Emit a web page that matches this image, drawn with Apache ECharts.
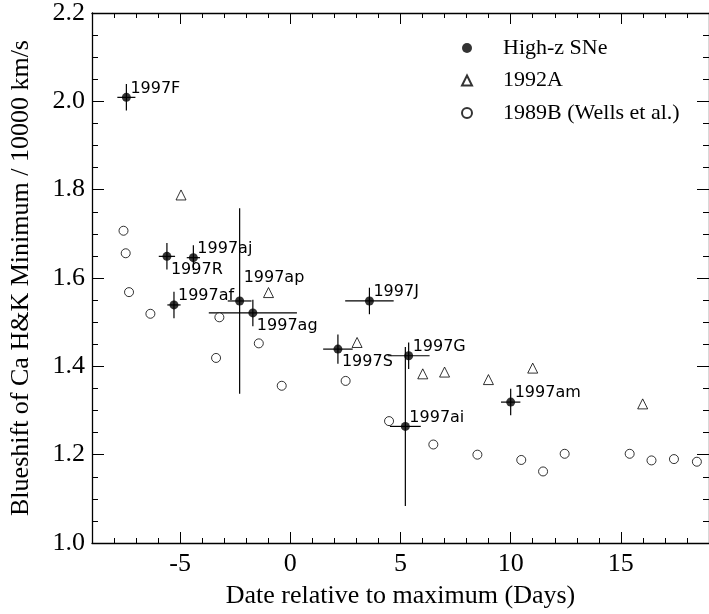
<!DOCTYPE html>
<html><head><meta charset="utf-8">
<script src="https://cdn.jsdelivr.net/npm/echarts@6/dist/echarts.min.js"></script>
<style>html,body{margin:0;padding:0;background:#fff}#c{width:709px;height:614px}</style>
</head><body><div id="c"></div>
<script>
// High-z SNe (filled circles with error bars)
const highzNames = ['1997F','1997R','1997aj','1997af','1997ap','1997ag','1997S','1997J','1997G','1997ai','1997am'];
const highzX     = [-7.44, -5.60, -4.40, -5.28, -2.30, -1.70, 2.16, 3.59, 5.37, 5.22, 10.0];
const highzY     = [2.009, 1.649, 1.646, 1.539, 1.548, 1.521, 1.439, 1.548, 1.424, 1.264, 1.319];
const highzXErr  = [0.41, 0.37, 0.30, 0.30, 0.54, 2.00, 0.67, 1.10, 0.95, 0.70, 0.44];
const highzYErr  = [0.030, 0.030, 0.028, 0.030, 0.210, 0.030, 0.033, 0.030, 0.030, 0.180, 0.030];
const labelsBelow = ['1997R','1997ag','1997S'];
const labelsHigh = ['1997ap'];

// SN 1992A (open triangles)
const sn92X = [-4.96, -0.99, 3.03, 6.01, 7.00, 8.99, 11.0, 15.99];
const sn92Y = [1.788, 1.567, 1.454, 1.383, 1.387, 1.370, 1.396, 1.315];

// SN 1989B, Wells et al. (open circles)
const sn89X = [-7.57, -7.47, -7.32, -6.35, -3.37, -3.22, -1.43, -0.39, 2.51, 4.48, 6.49, 8.49, 10.48, 11.47, 12.45, 15.40, 16.39, 17.41, 18.45];
const sn89Y = [1.707, 1.656, 1.568, 1.519, 1.419, 1.511, 1.452, 1.356, 1.367, 1.276, 1.223, 1.200, 1.188, 1.162, 1.202, 1.202, 1.187, 1.190, 1.184];

const xMajorTicks = [-5, 0, 5, 10, 15];
const xMin = -9, xMax = 19, yMin = 1.0, yMax = 2.2;

const serif = '"Liberation Serif", "Times New Roman", serif';
const black = '#000';

function xAxisDef(pos, major, withLabels) {
  const a = {
    type: 'value', position: pos, min: xMin, max: xMax,
    splitLine: { show: false },
    axisLine: { show: !major, onZero: false, lineStyle: { color: black, width: 1.3 } },
    axisTick: { show: true, inside: true, length: major ? 11 : 5, lineStyle: { color: black, width: 1 } },
    axisLabel: { show: false }
  };
  if (major) {
    a.axisTick.customValues = xMajorTicks;
    a.axisLabel = withLabels ? { show: true, customValues: xMajorTicks, color: black, fontFamily: serif, fontSize: 26, margin: 8 } : { show: false };
    if (withLabels) {
      a.name = 'Date relative to maximum (Days)';
      a.nameLocation = 'middle';
      a.nameGap = 40;
      a.nameTextStyle = { color: black, fontFamily: serif, fontSize: 26 };
    }
  } else {
    a.interval = 1;
  }
  return a;
}
function yAxisDef(pos, major, withLabels) {
  const a = {
    type: 'value', position: pos, min: yMin, max: yMax,
    interval: major ? 0.2 : 0.05,
    splitLine: { show: false },
    axisLine: { show: !major, onZero: false, lineStyle: { color: black, width: 1.3 } },
    axisTick: { show: true, inside: true, length: major ? 12 : 6, lineStyle: { color: black, width: 1 } },
    axisLabel: { show: false }
  };
  if (withLabels) {
    a.axisLabel = { show: true, color: black, fontFamily: serif, fontSize: 26, margin: 7, formatter: v => v.toFixed(1) };
    a.name = 'Blueshift of Ca H&K Minimum / 10000 km/s';
    a.nameLocation = 'middle';
    a.nameGap = 58;
    a.nameTextStyle = { color: black, fontFamily: serif, fontSize: 26 };
  }
  return a;
}

const errData = highzX.map((x, i) => [x, highzY[i], highzXErr[i], highzYErr[i], i]);

const option = {
  animation: false,
  backgroundColor: '#fff',
  grid: { left: 89, top: 7, width: 627, height: 540, containLabel: false },
  xAxis: [xAxisDef('bottom', false), xAxisDef('bottom', true, true), xAxisDef('top', false), xAxisDef('top', true, false)],
  yAxis: [yAxisDef('left', false), yAxisDef('left', true, true), yAxisDef('right', false), yAxisDef('right', true, false)],
  legend: {
    orient: 'vertical', left: 456, top: 32,
    itemWidth: 10, itemHeight: 10, itemGap: 10.5,
    textStyle: { color: black, fontFamily: serif, fontSize: 22, lineHeight: 22, padding: [0, 0, 0, 26] },
    data: ['High-z SNe', '1992A', '1989B (Wells et al.)']
  },
  series: [
    {
      type: 'custom', name: 'errorbars', xAxisIndex: 0, yAxisIndex: 0, z: 2,
      renderItem: function (params, api) {
        const x = api.value(0), y = api.value(1), ex = api.value(2), ey = api.value(3), idx = api.value(4);
        const c = api.coord([x, y]);
        const l = api.coord([x - ex, y]), r = api.coord([x + ex, y]);
        const t = api.coord([x, y + ey]), b = api.coord([x, y - ey]);
        const st = { stroke: black, lineWidth: 1.2 };
        const name = highzNames[idx];
        let dy = -9;
        if (labelsBelow.indexOf(name) >= 0) dy = 13;
        if (labelsHigh.indexOf(name) >= 0) dy = -23;
        return {
          type: 'group', children: [
            { type: 'line', shape: { x1: l[0], y1: l[1], x2: r[0], y2: r[1] }, style: st },
            { type: 'line', shape: { x1: t[0], y1: t[1], x2: b[0], y2: b[1] }, style: st },
            { type: 'text', x: c[0] + 4, y: c[1] + dy, style: { text: name, fill: black, fontFamily: '"DejaVu Sans", sans-serif', fontSize: 16, verticalAlign: 'middle', align: 'left' } }
          ]
        };
      },
      data: errData
    },
    {
      type: 'scatter', name: 'High-z SNe', xAxisIndex: 0, yAxisIndex: 0, z: 3,
      symbol: 'circle', symbolSize: 9,
      itemStyle: { color: black },
      data: highzX.map((x, i) => [x, highzY[i]])
    },
    {
      type: 'scatter', name: '1992A', xAxisIndex: 0, yAxisIndex: 0, z: 3,
      symbol: 'triangle', symbolSize: 10,
      itemStyle: { color: '#fff', borderColor: black, borderWidth: 1 },
      data: sn92X.map((x, i) => [x, sn92Y[i]])
    },
    {
      type: 'scatter', name: '1989B (Wells et al.)', xAxisIndex: 0, yAxisIndex: 0, z: 3,
      symbol: 'circle', symbolSize: 9,
      itemStyle: { color: '#fff', borderColor: black, borderWidth: 1 },
      data: sn89X.map((x, i) => [x, sn89Y[i]])
    }
  ]
};
const chart = echarts.init(document.getElementById('c'));
chart.setOption(option);
</script>
</body></html>
